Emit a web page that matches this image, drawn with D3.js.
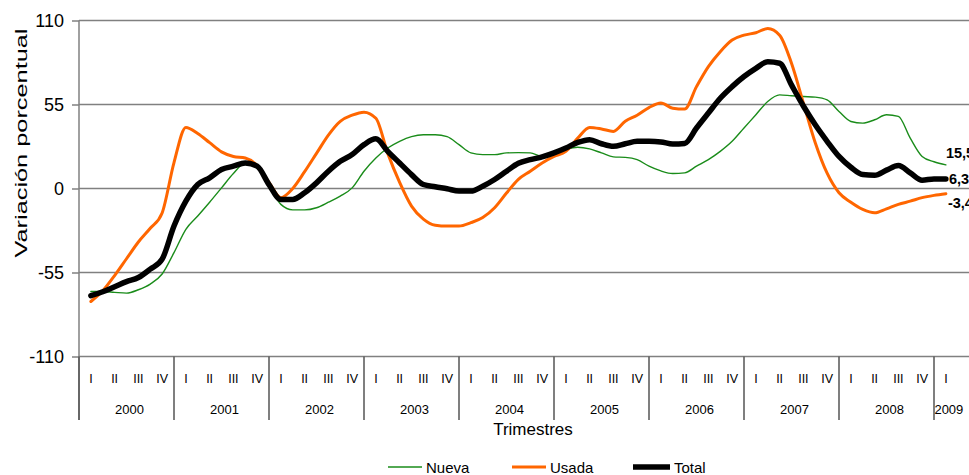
<!DOCTYPE html>
<html><head><meta charset="utf-8">
<script src="https://cdn.jsdelivr.net/npm/d3@7"></script>
<style>body{margin:0;background:#fff}svg{display:block}text{font-family:"Liberation Sans",Arial,sans-serif}</style>
</head><body><svg id="c" width="969" height="475"></svg>
<script>
// Categories
const years = ["2000","2001","2002","2003","2004","2005","2006","2007","2008","2009"];
const quarterNames = ["I","II","III","IV"];
const quartersInYear = [4,4,4,4,4,4,4,4,4,1];
const yTicks = [-110,-55,0,55,110];
// Sample positions in quarters (0 = 2000 I, 36 = 2009 I), half-quarter steps
const samplePos = d3.range(0, 36.5, 0.5);
// Series values (% variation)
const nueva = [-67.4,-67.4,-68,-68.5,-66.3,-62.6,-56,-42,-26.7,-18,-9,0.4,9.8,16.7,13.5,1.5,-10.4,-14,-14,-12.6,-9,-5,0.4,11.3,20,26.5,30.9,34,35.2,35.2,34,28.7,23.3,22.2,22.2,23.3,23.5,23.3,21,22.2,25.4,27,25.9,23.3,20.7,20.4,18.9,14.6,11.5,9.8,10.2,14.6,18.9,24.3,30.9,39.6,48.3,57,61.3,60.7,60.2,59.8,58,50.4,43.9,42.8,45,48.3,47.2,33,21,17.5,15.5];
const usada = [-74,-67,-57,-46,-35,-26,-16,17,40,36,30,24,21,20,15,4,-6,0,11,23,35,44,48,50,46,23,4,-11.5,-20,-24,-24.6,-24.6,-22.4,-19,-12.6,-3,6,11.3,16.7,21,24.3,33,40,39,37.4,44,48,53,56,52.6,52,66.7,79.8,89.6,97.2,100.4,102,104.8,100.4,82,56,30,10,-2.8,-9,-13.7,-15.9,-13.3,-10.4,-8.3,-6,-4.5,-3.4];
const total = [-70.2,-67.6,-64.3,-61,-58.3,-52.8,-46.3,-24.6,-8.3,2.6,7,12.4,14.6,16.7,14.6,2.6,-7.2,-7.2,-2.8,3.7,11.3,17.8,22.2,28.7,32.5,24.3,16.7,9.1,2.6,1.1,-0.2,-1.7,-1.7,1.5,5.9,11.3,16.5,18.9,20.7,23.3,26.5,30.2,32,29.3,27.6,29.3,30.9,30.9,30.5,29.1,29.5,39.6,49.4,59.1,66.7,73.3,78.7,83,82,67.8,54,41.7,30.9,21,13.9,9.1,8.7,12,15,10.2,5.4,6.3,6.3];
const seriesNames = ["Nueva","Usada","Total"];
const endLabels = ["15,5","-3,4","6,3"];

const svg = d3.select("#c");
const W = 969;
const nQ = d3.sum(quartersInYear);
const x = d3.scaleLinear().domain([0, nQ]).range([79, 79 + nQ*23.75]);
const y = d3.scaleLinear().domain([-110, 110]).range([356.5, 20.5]);
const grey = "#808080";

// gridlines
svg.append("g").selectAll("line").data(yTicks).join("line")
  .attr("x1", 79).attr("x2", W).attr("y1", d=>y(d)).attr("y2", d=>y(d))
  .attr("stroke", grey).attr("stroke-width", 1.5);

// y axis (ticks + labels)
const ya = svg.append("g").attr("transform","translate(79,0)")
  .call(d3.axisLeft(y).tickValues(yTicks).tickSize(7).tickSizeOuter(0).tickPadding(8).tickFormat(d=>String(d)));
ya.select(".domain").remove();
ya.selectAll("line").attr("stroke", grey).attr("stroke-width",1.5);
ya.selectAll("text").attr("font-size", 18).attr("fill","#000").attr("font-family",'"Liberation Sans",Arial,sans-serif');
svg.append("line").attr("x1",79).attr("x2",79).attr("y1",y(110)).attr("y2",420).attr("stroke",grey).attr("stroke-width",1.5);

// x category axis
let start = 0;
const groups = years.map((yr,i)=>{ const g={year:yr,start:start,n:quartersInYear[i]}; start+=quartersInYear[i]; return g; });
const xa = svg.append("g");
groups.forEach(g=>{
  xa.append("line").attr("x1",x(g.start)).attr("x2",x(g.start)).attr("y1",356.5).attr("y2",420)
    .attr("stroke","#555").attr("stroke-width",1.5);
  for(let q=0;q<g.n;q++){
    xa.append("text").attr("x",x(g.start+q+0.5)).attr("y",383).attr("text-anchor","middle")
      .attr("font-size",12.5).attr("fill","#000").text(quarterNames[q]);
  }
  xa.append("text").attr("x",x(g.start+g.n/2)+3).attr("y",414).attr("text-anchor","middle")
    .attr("font-size",13).text(g.year);
});

// titles
svg.append("text").attr("x",533).attr("y",435).attr("text-anchor","middle").attr("font-size",17).text("Trimestres");
svg.append("text").attr("transform","translate(27,143) rotate(-90)").attr("text-anchor","middle")
  .attr("font-size",16).attr("textLength",229).attr("lengthAdjust","spacingAndGlyphs").text("Variación porcentual");

// lines
const styles = [{c:"#1a8c1a",w:1.4},{c:"#ff6600",w:3},{c:"#000",w:5.5}];
const data = [nueva, usada, total];
const line = d3.line().x((d,i)=>x(samplePos[i]+0.5)).y(d=>y(d)).curve(d3.curveMonotoneX);
data.forEach((s,k)=>{
  svg.append("path").attr("d", line(s)).attr("fill","none").attr("stroke",styles[k].c)
    .attr("stroke-width",styles[k].w).attr("stroke-linejoin","round").attr("stroke-linecap","round");
});

// end labels
const labelDy = [-11, 10, 1];
const labelDx = [0, 2, 3];
const endSeries = [nueva, usada, total];
endSeries.forEach((s,k)=>{
  svg.append("text").attr("x", x(samplePos[samplePos.length-1]+0.5)+labelDx[k]).attr("y", y(s[s.length-1])+labelDy[k])
    .attr("dominant-baseline","middle").attr("font-weight","bold").attr("font-size",14.5).text(endLabels[k]);
});

// legend
const legX = [388, 512, 633];
const legW = [34, 34, 37];
seriesNames.forEach((name,k)=>{
  svg.append("line").attr("x1",legX[k]).attr("x2",legX[k]+legW[k]).attr("y1",467).attr("y2",467)
    .attr("stroke",styles[k].c).attr("stroke-width",styles[k].w);
  svg.append("text").attr("x",legX[k]+legW[k]+4).attr("y",473).attr("font-size",15).text(name);
});
</script></body></html>
